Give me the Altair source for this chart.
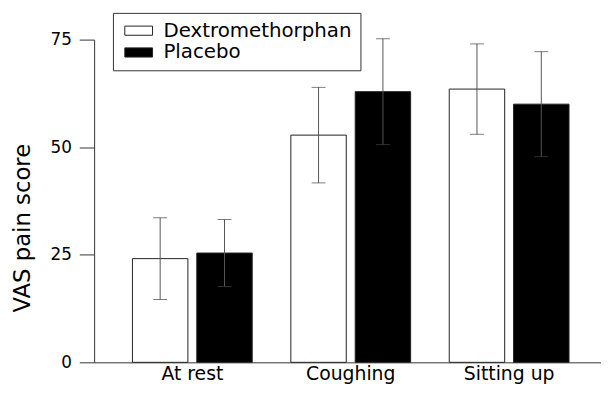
import altair as alt
import pandas as pd

categories = ["At rest", "Coughing", "Sitting up"]
groups = ["Dextromethorphan", "Placebo"]
dex_mean = [24.1, 52.8, 63.5]
dex_err = [9.5, 11.1, 10.5]
pla_mean = [25.4, 62.9, 60.0]
pla_err = [7.8, 12.3, 12.2]

rows = []
for i, c in enumerate(categories):
    rows.append({"cond": c, "group": groups[0], "mean": dex_mean[i],
                 "lo": dex_mean[i] - dex_err[i], "hi": dex_mean[i] + dex_err[i]})
    rows.append({"cond": c, "group": groups[1], "mean": pla_mean[i],
                 "lo": pla_mean[i] - pla_err[i], "hi": pla_mean[i] + pla_err[i]})
df = pd.DataFrame(rows)

FONT = "DejaVu Sans"

x = alt.X("cond:N", sort=categories, title=None,
          scale=alt.Scale(paddingInner=0, paddingOuter=0.1, align=0.6),
          axis=alt.Axis(labelAngle=0, ticks=False, tickSize=0, labelPadding=2,
                        labelFont=FONT, labelFontSize=19, labelColor="black",
                        domainColor="#333", domainWidth=1))
xoff = alt.XOffset("group:N", sort=groups,
                   scale=alt.Scale(paddingInner=0.1385, paddingOuter=0.3))
y = alt.Y("mean:Q", title="VAS pain score",
          scale=alt.Scale(domain=[0, 75], nice=False),
          axis=alt.Axis(values=[0, 25, 50, 75], grid=False, tickSize=15,
                        tickColor="#333", domainColor="#333", labelPadding=8,
                        labelFont=FONT, labelFontSize=17, labelColor="black",
                        titleFont=FONT, titleFontSize=23, titleFontWeight="normal",
                        titleColor="black", titleX=-72, titleY=190,
                        titleBaseline="middle", titleAngle=270))

bars = alt.Chart(df).mark_bar(stroke="#222", strokeWidth=1).encode(
    x=x, xOffset=xoff, y=y,
    fill=alt.Fill("group:N", sort=groups,
                  scale=alt.Scale(domain=groups, range=["white", "black"]),
                  legend=alt.Legend(title=None, orient="none", legendX=19, legendY=-27,
                                    strokeColor="#333", fillColor="white", padding=8,
                                    cornerRadius=0, labelLimit=400,
                                    symbolType="M-2,-0.66H2V0.66H-2Z", symbolSize=196,
                                    symbolOffset=8,
                                    symbolStrokeColor="#222", symbolStrokeWidth=1,
                                    labelFont=FONT, labelFontSize=20, labelColor="black",
                                    labelOffset=15, rowPadding=2))
)

rules = alt.Chart(df).mark_rule(color="#555", strokeWidth=1).encode(
    x=x, xOffset=xoff, y=alt.Y("lo:Q"), y2="hi:Q"
)
caps_hi = alt.Chart(df).mark_tick(color="#444", thickness=1, size=14).encode(
    x=x, xOffset=xoff, y=alt.Y("hi:Q")
)
caps_lo = alt.Chart(df).mark_tick(color="#444", thickness=1, size=14).encode(
    x=x, xOffset=xoff, y=alt.Y("lo:Q")
)

chart = alt.layer(bars, rules, caps_hi, caps_lo).properties(
    width=512, height=326,
    background="white",
    autosize=alt.AutoSizeParams(type="none"),
    padding={"left": 87, "top": 30, "right": 0, "bottom": 24},
).configure_view(stroke=None)

chart.save("out.html", embed_options={"renderer": "svg", "actions": False})
